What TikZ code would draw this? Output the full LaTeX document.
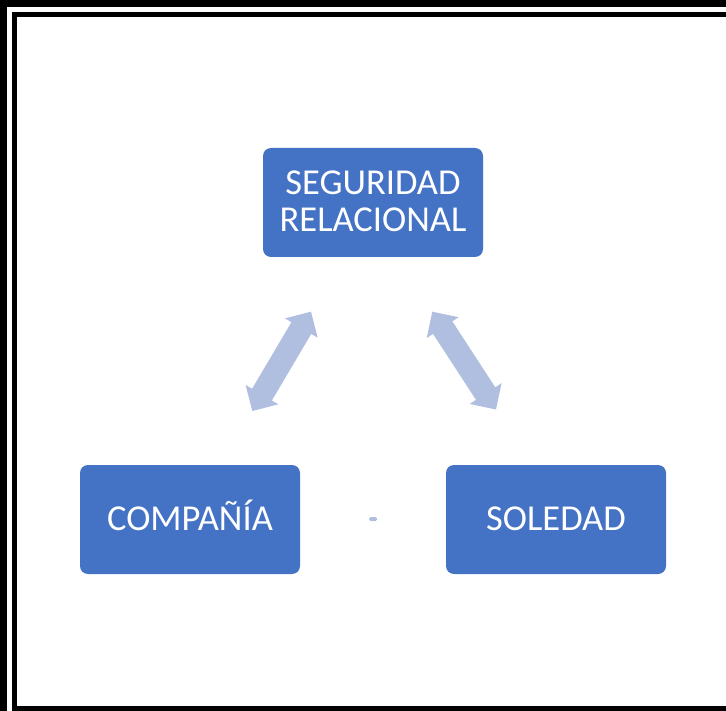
\documentclass[tikz,border=0pt]{standalone}
\usepackage{fontspec}
\setmainfont{Carlito}
\usetikzlibrary{calc}
\definecolor{boxblue}{HTML}{4472C4}
\definecolor{arrowc}{RGB}{176,190,224}
\newcommand\blockarr[2]{%
  \path ($(#1)!19pt!(#2)$) coordinate (p1) ($(#2)!19pt!(#1)$) coordinate (p2);
  \fill[arrowc] (#1) -- ($(p1)!19pt!90:(#2)$) -- ($(p1)!11.5pt!90:(#2)$)
    -- ($(p2)!11.5pt!-90:(#1)$) -- ($(p2)!19pt!-90:(#1)$) -- (#2)
    -- ($(p2)!19pt!90:(#1)$) -- ($(p2)!11.5pt!90:(#1)$)
    -- ($(p1)!11.5pt!-90:(#2)$) -- ($(p1)!19pt!-90:(#2)$) -- cycle;}
\tikzset{
  box/.style={fill=boxblue, draw=none, rounded corners=8pt, minimum width=220pt,
    minimum height=109pt, inner sep=0pt, text=white, align=center,
    font=\fontsize{36.5}{37}\selectfont, text depth=0pt, text height=21pt},
  frameline/.style={fill=black}
}
\begin{document}
\begin{tikzpicture}[x=1pt,y=-1pt]
\useasboundingbox (0,0) rectangle (726,711);
\fill[white] (0,0) rectangle (726,711);
% frame
\fill[frameline] (0,0) rectangle (7,711);
\fill[frameline] (0,0) rectangle (726,7);
\fill[frameline] (12.3,12.3) rectangle (16.8,711);
\fill[frameline] (12.3,12.3) rectangle (726,16.8);
\fill[frameline] (12.3,706) rectangle (726,711);
% boxes
\node[box, text height=58pt] (seg) at (373,202.5) {SEGURIDAD\\RELACIONAL};
\node[box] (comp) at (190,519.5) {COMPAÑÍA};
\node[box] (sol) at (556,519.5) {SOLEDAD};
% arrows
\coordinate (ltop) at (311,311.7);
\coordinate (lbot) at (252.3,411);
\coordinate (rtop) at (432.3,311.7);
\coordinate (rbot) at (496,409.5);
\blockarr{lbot}{ltop}
\blockarr{rtop}{rbot}
% small mark
\node[fill=arrowc, draw=none, rounded corners=1.5pt, minimum width=8pt, minimum height=4pt, inner sep=0pt] (dot) at (373,519) {};
\end{tikzpicture}
\end{document}
